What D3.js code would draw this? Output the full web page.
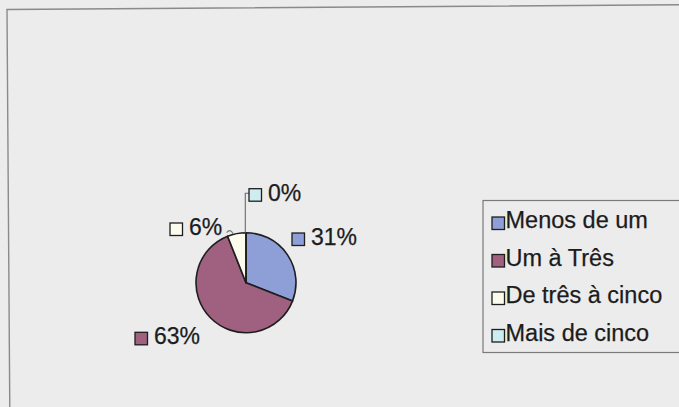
<!DOCTYPE html>
<html>
<head>
<meta charset="utf-8">
<script src="https://cdn.jsdelivr.net/npm/d3@7"></script>
<style>
  html, body { margin: 0; padding: 0; background: #ececec; }
  svg { display: block; }
  text { font-family: "Liberation Sans", Arial, sans-serif; fill: #1c1c1c; stroke: #1c1c1c; stroke-width: 0.25; }
</style>
</head>
<body>
<svg id="chart" width="679" height="407"></svg>
<script>
// Categories and their shares (percent)
const categories = ["Menos de um", "Um à Três", "De três à cinco", "Mais de cinco"];
const values = [31, 63, 6, 0];
const colors = ["#8e9fd8", "#a0607f", "#fbfbee", "#cdedf0"];

// Layout
const W = 679, H = 407;
const cx = 246, cy = 282.7, R = 50;
const labelFont = 23, legendFont = 23.5;
// Where each percentage label (text start, baseline) sits relative to the pie centre
const labelOffsets = [[65, -37.7], [-92, 61.6], [-57, -47.7], [22, -82]];

const svg = d3.select("#chart");

svg.append("rect").attr("width", W).attr("height", H).attr("fill", "#ececec");

// Chart frame (slightly rotated page)
svg.append("rect")
  .attr("x", 7).attr("y", 9.5)
  .attr("width", 900).attr("height", 600)
  .attr("fill", "none")
  .attr("stroke", "#8a8a8a")
  .attr("stroke-width", 1.4)
  .attr("transform", "rotate(-0.4, 7, 9.5)");

// Pie
const total = d3.sum(values);
const pie = d3.pie().sort(null).value(d => d)(values);
const arc = d3.arc().innerRadius(0).outerRadius(R);
const pct = d3.format(".0%");

const g = svg.append("g").attr("transform", `translate(${cx},${cy})`);
g.selectAll("path.slice")
  .data(pie)
  .join("path")
  .attr("class", "slice")
  .attr("d", arc)
  .attr("fill", (d, i) => colors[i])
  .attr("stroke", "#1e1e1e")
  .attr("stroke-width", 1.6)
  .attr("stroke-linejoin", "round");

// Leader lines
const polar = (a, r) => [r * Math.sin(a), -r * Math.cos(a)];
// last slice (zero share) sits at the top of the pie
{
  const d = pie[3];
  const [x0, y0] = polar(d.startAngle, R);
  const [ox, oy] = labelOffsets[3];
  const yTop = oy - 7.5;
  g.append("path")
    .attr("d", `M${x0 - 0.7},${y0} L${x0 - 0.7},${yTop} L${x0 + 4},${yTop}`)
    .attr("fill", "none")
    .attr("stroke", "#6a6a6a")
    .attr("stroke-width", 1.1);
}
// small leader for the third slice
{
  const d = pie[2];
  const a = d.startAngle + (d.endAngle - d.startAngle) * 0.2;
  const [x0, y0] = polar(a, R + 3.5);
  g.append("path")
    .attr("d", `M${x0 - 3.5},${y0 + 1} Q${x0},${y0 - 3.5} ${x0 + 3},${y0 + 2}`)
    .attr("fill", "none")
    .attr("stroke", "#777")
    .attr("stroke-width", 1.1);
}

// Percentage labels
const labels = g.selectAll("g.lbl")
  .data(pie)
  .join("g")
  .attr("class", "lbl")
  .attr("transform", (d, i) => `translate(${labelOffsets[i][0]},${labelOffsets[i][1]})`);
labels.append("rect")
  .attr("x", -19).attr("y", -12)
  .attr("width", 12.5).attr("height", 12.5)
  .attr("fill", (d, i) => colors[i])
  .attr("stroke", "#1e1e1e")
  .attr("stroke-width", 1.3);
labels.append("text")
  .attr("x", 0).attr("y", 0)
  .attr("font-size", labelFont)
  .text(d => pct(d.value / total));

// Legend
const legendX = 483, legendY = 200.5, legendH = 152;
svg.append("rect")
  .attr("x", legendX).attr("y", legendY)
  .attr("width", 400).attr("height", legendH)
  .attr("fill", "#ececec")
  .attr("stroke", "#7a7a7a")
  .attr("stroke-width", 1.2);

const rowY = d3.scalePoint().domain(categories).range([228, 340.5]);
const items = svg.selectAll("g.leg")
  .data(categories)
  .join("g")
  .attr("class", "leg")
  .attr("transform", d => `translate(${legendX + 9},${rowY(d)})`);
items.append("rect")
  .attr("x", 0).attr("y", -11)
  .attr("width", 12.5).attr("height", 12.5)
  .attr("fill", (d, i) => colors[i])
  .attr("stroke", "#1e1e1e")
  .attr("stroke-width", 1.3);
items.append("text")
  .attr("x", 13.5).attr("y", 0)
  .attr("font-size", legendFont)
  .text(d => d);
</script>
</body>
</html>
